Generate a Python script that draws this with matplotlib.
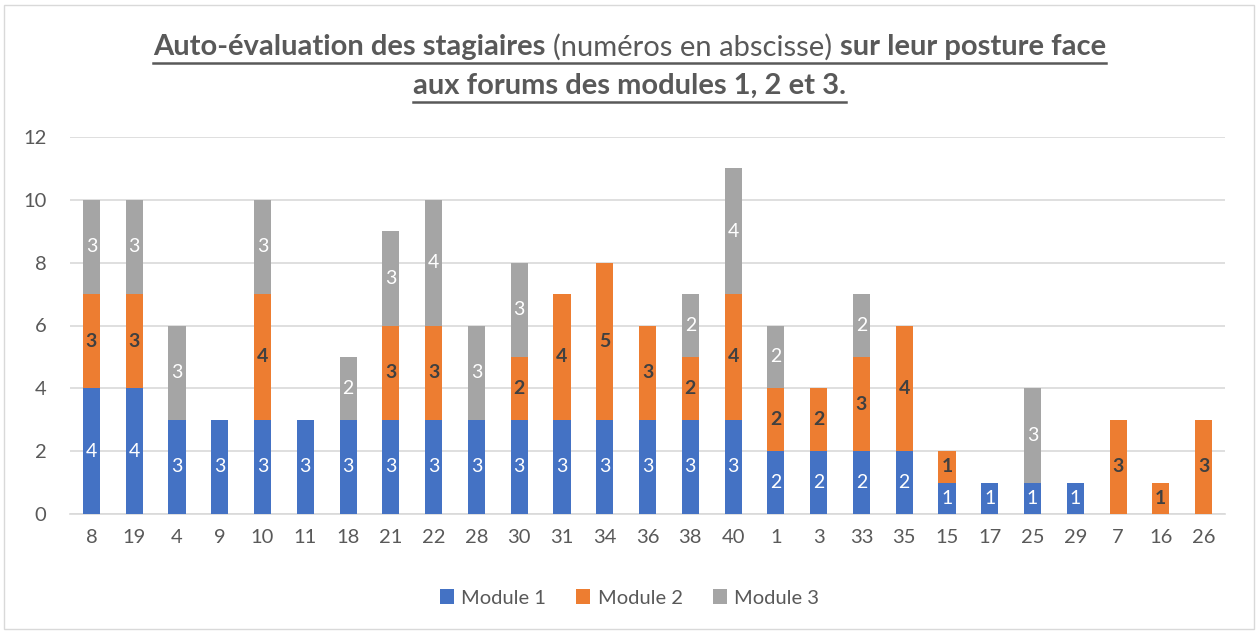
import matplotlib
matplotlib.use("Agg")
import matplotlib.pyplot as plt
from matplotlib.patches import Rectangle
from matplotlib.lines import Line2D
import numpy as np

plt.rcParams['font.family'] = ['Lato', 'DejaVu Sans']

trainees = ["8", "19", "4", "9", "10", "11", "18", "21", "22", "28", "30", "31", "34",
            "36", "38", "40", "1", "3", "33", "35", "15", "17", "25", "29", "7", "16", "26"]
module1 = [4, 4, 3, 3, 3, 3, 3, 3, 3, 3, 3, 3, 3, 3, 3, 3, 2, 2, 2, 2, 1, 1, 1, 1, 0, 0, 0]
module2 = [3, 3, 0, 0, 4, 0, 0, 3, 3, 0, 2, 4, 5, 3, 2, 4, 2, 2, 3, 4, 1, 0, 0, 0, 3, 1, 3]
module3 = [3, 3, 3, 0, 3, 0, 2, 3, 4, 3, 3, 0, 0, 0, 2, 4, 2, 0, 2, 0, 0, 0, 3, 0, 0, 0, 0]
series_names = ["Module 1", "Module 2", "Module 3"]
y_ticks = [0, 2, 4, 6, 8, 10, 12]

colors = ["#4472C4", "#ED7D31", "#A5A5A5"]
label_styles = [dict(color="white", fontweight="normal"),
                dict(color="#404040", fontweight="bold"),
                dict(color="white", fontweight="normal")]
text_grey = "#595959"

W, H = 1259, 633
fig = plt.figure(figsize=(W / 100, H / 100), dpi=100)
fig.patch.set_facecolor("white")

# outer chart border
fig.add_artist(Rectangle((4 / W, 4 / H), 1 - 9 / W, 1 - 9 / H, transform=fig.transFigure,
                         fill=False, edgecolor="#D9D9D9", linewidth=1.0))

ax = fig.add_axes([70 / W, 1 - 514 / H, (1225 - 70) / W, (514 - 137) / H])
x = np.arange(len(trainees))
bottom = np.zeros(len(trainees))
handles = []
for vals, col, name, style in zip([module1, module2, module3], colors, series_names, label_styles):
    vals = np.array(vals, dtype=float)
    bars = ax.bar(x, vals, width=0.4, bottom=bottom, color=col, label=name, zorder=3)
    handles.append(bars)
    for xi, b, v in zip(x, bottom, vals):
        if v > 0:
            ax.text(xi, b + v / 2, f"{int(v)}", ha="center", va="center",
                    fontsize=14, zorder=4, **style)
    bottom = bottom + vals

ax.set_xlim(-0.5, len(trainees) - 0.5)
ax.set_ylim(0, 12)
ax.set_yticks(y_ticks)
ax.set_xticks(x)
ax.set_xticklabels(trainees)
ax.yaxis.grid(True, color="#D9D9D9", linewidth=1.2, zorder=0)
ax.set_axisbelow(True)
for s in ["top", "right", "left"]:
    ax.spines[s].set_visible(False)
ax.spines["bottom"].set_color("#D9D9D9")
ax.spines["bottom"].set_linewidth(1.2)
ax.tick_params(axis="both", length=0, labelsize=14.5, labelcolor=text_grey)
ax.tick_params(axis="y", pad=17)
ax.tick_params(axis="x", pad=11)

leg = fig.legend(handles=handles, labels=series_names, loc="center", bbox_to_anchor=(0.5, 1 - 598 / H),
                 ncol=3, frameon=False, fontsize=14.5, handlelength=0.7, handleheight=0.7,
                 handletextpad=0.35, columnspacing=1.5, labelcolor=text_grey)

# title made of bold and regular segments, underlined
title_lines = [
    [("Auto-évaluation des stagiaires ", "bold"), ("(numéros en abscisse) ", "normal"),
     ("sur leur posture face", "bold")],
    [("aux forums des modules 1, 2 et 3.", "bold")],
]
title_y = [47, 86]
fig.canvas.draw()
renderer = fig.canvas.get_renderer()
for segs, ypix in zip(title_lines, title_y):
    texts = []
    widths = []
    for s, w in segs:
        t = fig.text(0, 1 - ypix / H, s, fontsize=21, fontweight=w, color=text_grey,
                     ha="left", va="center")
        bb = t.get_window_extent(renderer)
        texts.append(t)
        widths.append(bb.width)
    total = sum(widths)
    start = (W - total) / 2
    cur = start
    for t, wd in zip(texts, widths):
        t.set_x(cur / W)
        cur += wd
    uy = 1 - (ypix + 16) / H
    fig.add_artist(Line2D([start / W, (start + total) / W], [uy, uy], transform=fig.transFigure,
                          color=text_grey, linewidth=1.8))

fig.savefig("out.png", dpi=100, facecolor="white")
